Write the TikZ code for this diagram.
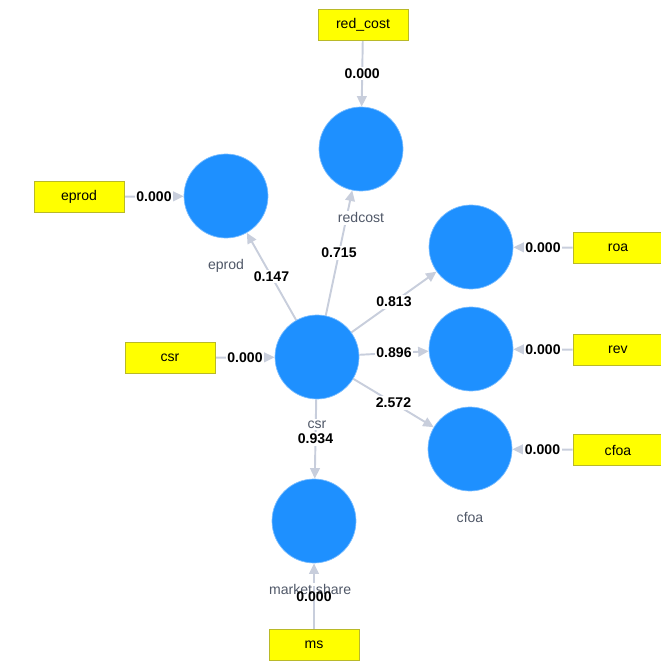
\documentclass[tikz,border=0pt]{standalone}
\usepackage{fontspec}
\setmainfont{Liberation Sans}
\usepackage{xcolor}
\usepackage{tikz}
\usetikzlibrary{arrows.meta,backgrounds}
\definecolor{lvblue}{RGB}{30,144,255}
\definecolor{boxyellow}{RGB}{255,255,0}
\definecolor{boxedge}{RGB}{185,185,40}
\definecolor{pathgray}{RGB}{200,206,220}
\definecolor{lvtext}{RGB}{80,88,104}

\begin{document}
\begin{tikzpicture}[x=0.02cm, y=-0.02cm,
  lvlabel/.style={text=lvtext, fill=white, inner sep=1pt, label distance=0.38cm, font=\fontsize{8}{9}\selectfont},
  lv/.style={circle, fill=lvblue, draw=lvblue!60, minimum size=1.68cm, inner sep=0pt,
    label={[lvlabel]below:#1}},
  ind/.style={rectangle, draw=boxedge, fill=boxyellow, minimum width=1.8cm, minimum height=0.62cm,
    font=\fontsize{8}{9}\selectfont},
  rel/.style={draw=pathgray, line width=1.1pt, -{Triangle[length=6pt,width=5.5pt]}},
  coef/.style={fill=white, inner sep=1pt, font=\bfseries\fontsize{8}{9}\selectfont}]
\useasboundingbox (0,0) rectangle (661,665);

\node[ind] (redcostbox) at (363,25) {red\_cost};
\node[lv=redcost] (redcost) at (361,149) {};
\node[ind] (eprodbox) at (79,197) {eprod};
\node[lv=eprod] (eprod) at (226,196) {};
\node[ind] (csrbox) at (170,358) {csr};
\node[lv=csr] (csr) at (317,357) {};
\node[lv={}] (roa) at (471,247) {};
\node[ind] (roabox) at (618,248) {roa};
\node[lv={}] (rev) at (471,349) {};
\node[ind] (revbox) at (618,350) {rev};
\node[lv=cfoa] (cfoa) at (470,449) {};
\node[ind] (cfoabox) at (618,450) {cfoa};
\node[lv={}, label={[lvlabel, fill=none, xshift=-2.2pt]below:market share}] (mshare) at (314,521) {};
\node[ind] (msbox) at (314,645) {ms};

% paths behind the labels
\begin{scope}[on background layer]
\draw[rel] (redcostbox) -- node[coef] {0.000} (redcost);
\draw[rel] (eprodbox) -- node[coef] {0.000} (eprod);
\draw[rel] (csrbox) -- node[coef] {0.000} (csr);
\draw[rel] (roabox) -- node[coef] {0.000} (roa);
\draw[rel] (revbox) -- node[coef] {0.000} (rev);
\draw[rel] (cfoabox) -- node[coef] {0.000} (cfoa);
\draw[rel] (msbox) -- (mshare);

\draw[rel] (csr) -- node[coef] {0.147} (eprod);
\draw[rel] (csr) -- node[coef] {0.715} (redcost);
\draw[rel] (csr) -- node[coef] {0.813} (roa);
\draw[rel] (csr) -- node[coef] {0.896} (rev);
\draw[rel] (csr) -- node[coef] {2.572} (cfoa);
\draw[rel] (csr) -- node[coef] {0.934} (mshare);
\end{scope}

\path (msbox) -- node[coef, fill=none] {0.000} (mshare);
\end{tikzpicture}
\end{document}
